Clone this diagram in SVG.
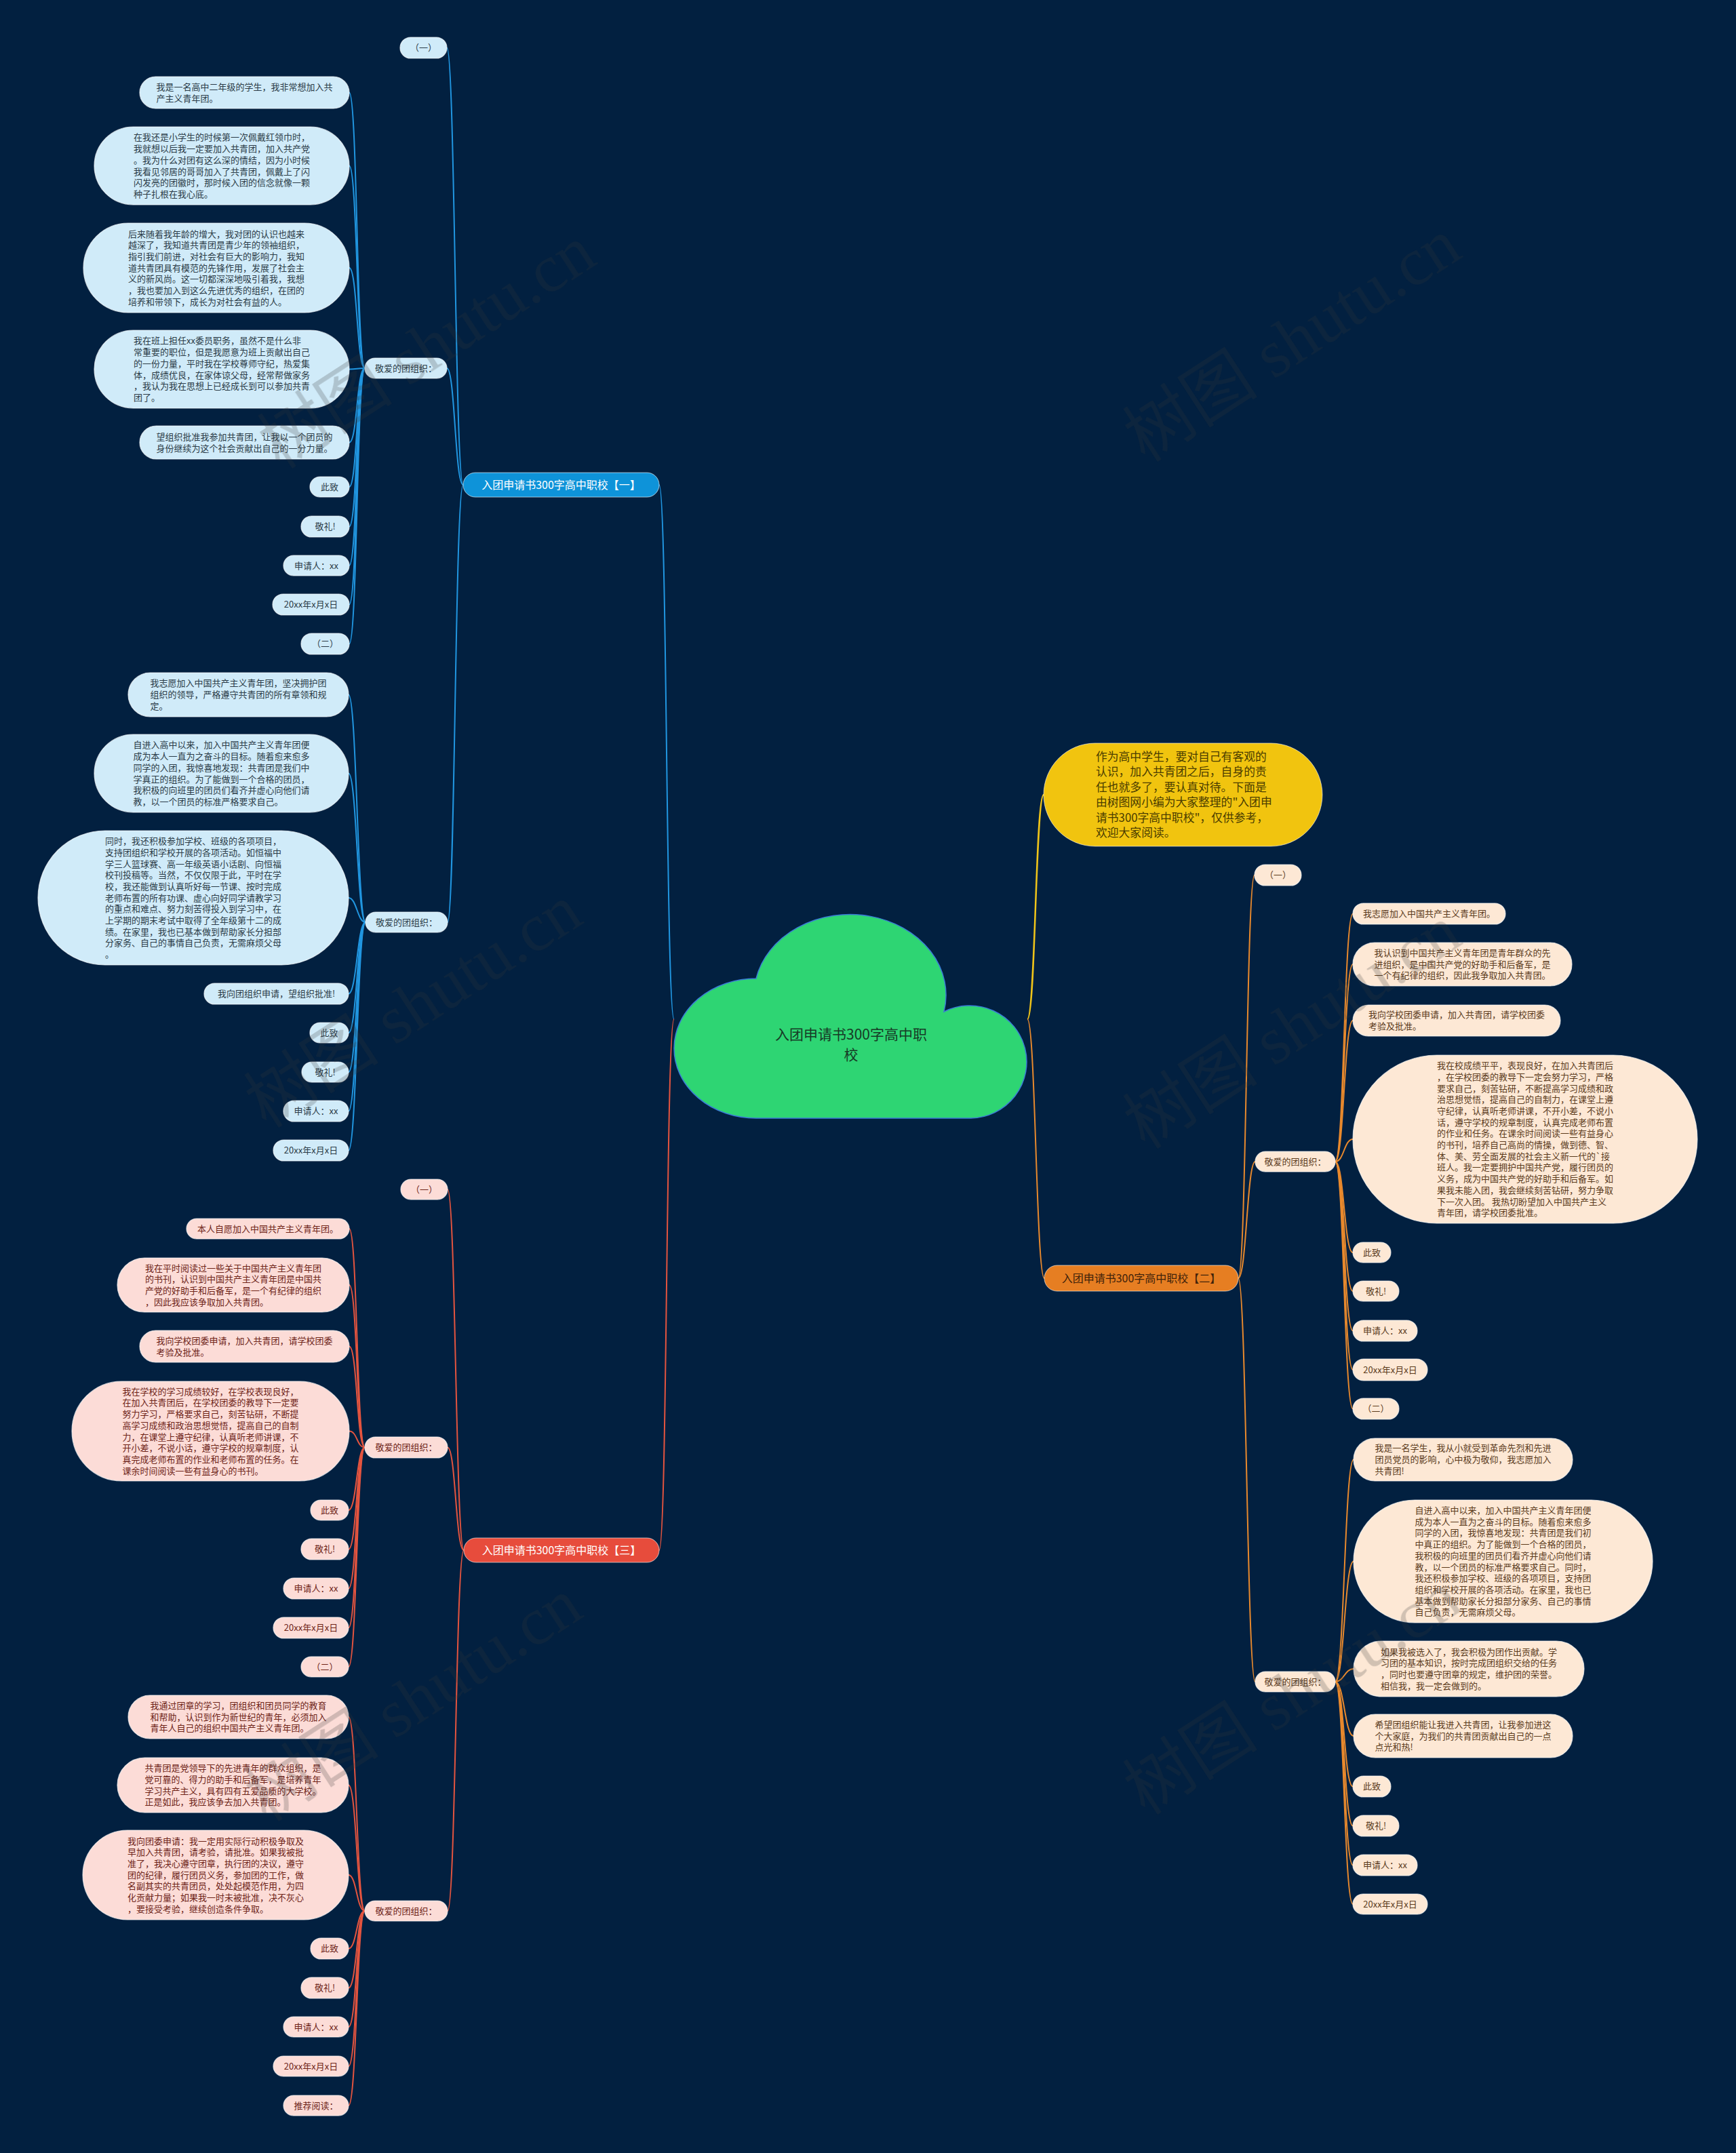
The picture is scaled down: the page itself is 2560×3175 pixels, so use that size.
<svg xmlns="http://www.w3.org/2000/svg" width="2560" height="3175" viewBox="0 0 2560 3175">
<style>
text{font-family:"Noto Sans CJK SC","Noto Sans",sans-serif;font-size:13px}
.c{text-anchor:middle}
.lb{fill:#d0ebf9;stroke:#ffffff;stroke-opacity:.7;stroke-width:1.2}
.lr{fill:#fcdcd7;stroke:#ffffff;stroke-opacity:.7;stroke-width:1.2}
.lo{fill:#fde8d5;stroke:#ffffff;stroke-opacity:.7;stroke-width:1.2}
.tb{fill:#2b3b47}
.tr{fill:#6e2418}
.to{fill:#5b3b1c}
.cb path{fill:none;stroke:#2196e0;stroke-width:2}
.cr path{fill:none;stroke:#e4543f;stroke-width:2}
.co path{fill:none;stroke:#e8892d;stroke-width:2}
.cy path{fill:none;stroke:#f0c419;stroke-width:2.5}
.br{font-size:16px}
</style>
<rect x="0" y="0" width="2560" height="3175" fill="#022040"/>

<g id="connectors">
<g class="cb">
<path d="M994 1503 C982 1503 984 715 972 715" stroke-width="2.5"/>
<path d="M683 715 C671 715 671 70.5 659 70.5"/>
<path d="M683 715 C671 715 671 543 659 543"/>
<path d="M683 715 C671 715 671 1360 660 1360"/>
<path d="M538 543 C526 543 527 136.5 515 136.5"/>
<path d="M538 543 C526 543 527 244.5 515 244.5"/>
<path d="M538 543 C526 543 527 395 515 395"/>
<path d="M538 543 C526 543 527 544.5 515 544.5"/>
<path d="M538 543 C526 543 527 652.5 515 652.5"/>
<path d="M538 543 C526 543 527 718 515 718"/>
<path d="M538 543 C526 543 527 776.5 515 776.5"/>
<path d="M538 543 C526 543 527 834 515 834"/>
<path d="M538 543 C526 543 527 891.5 515 891.5"/>
<path d="M538 543 C526 543 527 949.5 515 949.5"/>
<path d="M539 1360 C527 1360 526 1024.5 514 1024.5"/>
<path d="M539 1360 C527 1360 526 1140.5 514 1140.5"/>
<path d="M539 1360 C527 1360 526 1324 514 1324"/>
<path d="M539 1360 C527 1360 526 1465.5 514 1465.5"/>
<path d="M539 1360 C527 1360 526 1523 514 1523"/>
<path d="M539 1360 C527 1360 526 1581 514 1581"/>
<path d="M539 1360 C527 1360 526 1638.5 514 1638.5"/>
<path d="M539 1360 C527 1360 526 1696.5 514 1696.5"/>
</g>
<g class="cr">
<path d="M994 1503 C982 1503 984 2286 972 2286" stroke-width="2.5"/>
<path d="M684 2286 C672 2286 672 1754 660 1754"/>
<path d="M684 2286 C672 2286 672 2134.5 660 2134.5"/>
<path d="M684 2286 C672 2286 672 2818 660 2818"/>
<path d="M538 2134.5 C526 2134.5 527 1812 515 1812"/>
<path d="M538 2134.5 C526 2134.5 527 1895 515 1895"/>
<path d="M538 2134.5 C526 2134.5 527 1985.5 515 1985.5"/>
<path d="M538 2134.5 C526 2134.5 527 2110.5 515 2110.5"/>
<path d="M538 2134.5 C526 2134.5 526 2227 514 2227"/>
<path d="M538 2134.5 C526 2134.5 526 2284.5 514 2284.5"/>
<path d="M538 2134.5 C526 2134.5 526 2342.5 514 2342.5"/>
<path d="M538 2134.5 C526 2134.5 526 2400.5 514 2400.5"/>
<path d="M538 2134.5 C526 2134.5 526 2458 514 2458"/>
<path d="M538 2818 C526 2818 526 2532 514 2532"/>
<path d="M538 2818 C526 2818 526 2632.5 514 2632.5"/>
<path d="M538 2818 C526 2818 526 2765 514 2765"/>
<path d="M538 2818 C526 2818 526 2873.5 514 2873.5"/>
<path d="M538 2818 C526 2818 526 2931.5 514 2931.5"/>
<path d="M538 2818 C526 2818 526 2989 514 2989"/>
<path d="M538 2818 C526 2818 526 3047 514 3047"/>
<path d="M538 2818 C526 2818 526 3105 514 3105"/>
</g>
<g class="cy">
<path d="M1515 1503 C1527 1503 1527 1172 1539 1172"/>
</g>
<g class="co">
<path d="M1515 1503 C1527 1503 1528 1885 1540 1885" stroke-width="2.5"/>
<path d="M1826 1885 C1838 1885 1838 1290.5 1850 1290.5"/>
<path d="M1826 1885 C1838 1885 1839 1713 1851 1713"/>
<path d="M1826 1885 C1838 1885 1839 2480 1851 2480"/>
<path d="M1969 1713 C1982 1713 1982 1347.5 1995 1347.5"/>
<path d="M1969 1713 C1982 1713 1982 1422 1995 1422"/>
<path d="M1969 1713 C1982 1713 1982 1505 1995 1505"/>
<path d="M1969 1713 C1982 1713 1982 1680 1995 1680"/>
<path d="M1969 1713 C1982 1713 1982 1847 1995 1847"/>
<path d="M1969 1713 C1982 1713 1982 1904 1995 1904"/>
<path d="M1969 1713 C1982 1713 1982 1962.5 1995 1962.5"/>
<path d="M1969 1713 C1982 1713 1982 2020 1995 2020"/>
<path d="M1969 1713 C1982 1713 1982 2077.5 1995 2077.5"/>
<path d="M1969 2480 C1982 2480 1983 2152.5 1996 2152.5"/>
<path d="M1969 2480 C1982 2480 1983 2302.5 1996 2302.5"/>
<path d="M1969 2480 C1982 2480 1983 2461 1996 2461"/>
<path d="M1969 2480 C1982 2480 1983 2560 1996 2560"/>
<path d="M1969 2480 C1982 2480 1982 2634.5 1995 2634.5"/>
<path d="M1969 2480 C1982 2480 1982 2692.5 1995 2692.5"/>
<path d="M1969 2480 C1982 2480 1982 2750.5 1995 2750.5"/>
<path d="M1969 2480 C1982 2480 1982 2808 1995 2808"/>
</g>
</g>

<g id="root">
<path d="M1115 1649 A121 103 0 0 1 1115 1443 A138 116 0 0 1 1392 1492 A84 83 0 1 1 1432 1649 Z" fill="#2ed573" stroke="#3a7bd5" stroke-width="1.5"/>
<text class="c" x="1255" y="1532.5" style="font-size:21px" fill="#173a26">入团申请书300字高中职</text>
<text class="c" x="1255" y="1562.5" style="font-size:21px" fill="#173a26">校</text>
</g>

<!-- Branch 1 -->
<g id="b1"><rect x="683" y="697" width="289" height="36" rx="18" fill="#0e93d9" stroke="#ffffff" stroke-opacity=".6"/><text class="c br" x="827.5" y="721" fill="#ffffff">入团申请书300字高中职校【一】</text></g>
<g id="b1_one"><rect class="lb" x="590" y="55" width="69" height="31" rx="15.5"/><text class="c tb" x="624.5" y="75.1">（一）</text></g>
<g id="b1_org1"><rect class="lb" x="538" y="528" width="121" height="30" rx="15"/><text class="c tb" x="598.5" y="547.6">敬爱的团组织：</text></g>
<g id="b1_org2"><rect class="lb" x="539" y="1345" width="121" height="30" rx="15"/><text class="c tb" x="599.5" y="1364.6">敬爱的团组织：</text></g>
<g id="p1"><rect class="lb" x="206" y="113" width="309" height="47" rx="23.5"/><text class="tb" x="230.5" y="132.8"><tspan x="230.5">我是一名高中二年级的学生，我非常想加入共</tspan><tspan x="230.5" dy="16.7">产主义青年团。</tspan></text></g>
<g id="p2"><rect class="lb" x="139" y="187" width="376" height="115" rx="57.5"/><text class="tb" x="197" y="207.4"><tspan x="197">在我还是小学生的时候第一次佩戴红领巾时，</tspan><tspan x="197" dy="16.7">我就想以后我一定要加入共青团，加入共产党</tspan><tspan x="197" dy="16.7">。我为什么对团有这么深的情结，因为小时候</tspan><tspan x="197" dy="16.7">我看见邻居的哥哥加入了共青团，佩戴上了闪</tspan><tspan x="197" dy="16.7">闪发亮的团徽时，那时候入团的信念就像一颗</tspan><tspan x="197" dy="16.7">种子扎根在我心底。</tspan></text></g>
<g id="p3"><rect class="lb" x="123" y="329" width="392" height="132" rx="66"/><text class="tb" x="189" y="349.5"><tspan x="189">后来随着我年龄的增大，我对团的认识也越来</tspan><tspan x="189" dy="16.7">越深了，我知道共青团是青少年的领袖组织，</tspan><tspan x="189" dy="16.7">指引我们前进，对社会有巨大的影响力，我知</tspan><tspan x="189" dy="16.7">道共青团具有模范的先锋作用，发展了社会主</tspan><tspan x="189" dy="16.7">义的新风尚。这一切都深深地吸引着我，我想</tspan><tspan x="189" dy="16.7">，我也要加入到这么先进优秀的组织，在团的</tspan><tspan x="189" dy="16.7">培养和带领下，成长为对社会有益的人。</tspan></text></g>
<g id="p4"><rect class="lb" x="139" y="487" width="376" height="115" rx="57.5"/><text class="tb" x="197" y="507.4"><tspan x="197">我在班上担任xx委员职务，虽然不是什么非</tspan><tspan x="197" dy="16.7">常重要的职位，但是我愿意为班上贡献出自己</tspan><tspan x="197" dy="16.7">的一份力量，平时我在学校尊师守纪，热爱集</tspan><tspan x="197" dy="16.7">体，成绩优良，在家体谅父母，经常帮做家务</tspan><tspan x="197" dy="16.7">，我认为我在思想上已经成长到可以参加共青</tspan><tspan x="197" dy="16.7">团了。</tspan></text></g>
<g id="p5"><rect class="lb" x="206" y="628" width="309" height="49" rx="24.5"/><text class="tb" x="230.5" y="648.8"><tspan x="230.5">望组织批准我参加共青团，让我以一个团员的</tspan><tspan x="230.5" dy="16.7">身份继续为这个社会贡献出自己的一分力量。</tspan></text></g>
<g id="b1_zz1"><rect class="lb" x="457" y="703" width="58" height="30" rx="15"/><text class="c tb" x="486" y="722.6">此致</text></g>
<g id="b1_jl1"><rect class="lb" x="444" y="761" width="71" height="31" rx="15.5"/><text class="c tb" x="479.5" y="781.1">敬礼!</text></g>
<g id="b1_sq1"><rect class="lb" x="418" y="819" width="97" height="30" rx="15"/><text class="c tb" x="466.5" y="838.6">申请人：xx</text></g>
<g id="b1_rq1"><rect class="lb" x="402" y="876" width="113" height="31" rx="15.5"/><text class="c tb" x="458.5" y="896.1">20xx年x月x日</text></g>
<g id="b1_er1"><rect class="lb" x="444" y="934" width="71" height="31" rx="15.5"/><text class="c tb" x="479.5" y="954.1">（二）</text></g>
<g id="q1"><rect class="lb" x="189" y="992" width="325" height="65" rx="32.5"/><text class="tb" x="221.5" y="1012.4"><tspan x="221.5">我志愿加入中国共产主义青年团，坚决拥护团</tspan><tspan x="221.5" dy="16.7">组织的领导，严格遵守共青团的所有章领和规</tspan><tspan x="221.5" dy="16.7">定。</tspan></text></g>
<g id="q2"><rect class="lb" x="139" y="1083" width="375" height="115" rx="57.5"/><text class="tb" x="196.5" y="1103.4"><tspan x="196.5">自进入高中以来，加入中国共产主义青年团便</tspan><tspan x="196.5" dy="16.7">成为本人一直为之奋斗的目标。随着愈来愈多</tspan><tspan x="196.5" dy="16.7">同学的入团，我惊喜地发现：共青团是我们中</tspan><tspan x="196.5" dy="16.7">学真正的组织。为了能做到一个合格的团员，</tspan><tspan x="196.5" dy="16.7">我积极的向班里的团员们看齐并虚心向他们请</tspan><tspan x="196.5" dy="16.7">教，以一个团员的标准严格要求自己。</tspan></text></g>
<g id="q3"><rect class="lb" x="56" y="1225" width="458" height="198" rx="99"/><text class="tb" x="155" y="1245.1"><tspan x="155">同时，我还积极参加学校、班级的各项项目，</tspan><tspan x="155" dy="16.7">支持团组织和学校开展的各项活动。如恒福中</tspan><tspan x="155" dy="16.7">学三人篮球赛、高一年级英语小话剧、向恒福</tspan><tspan x="155" dy="16.7">校刊投稿等。当然，不仅仅限于此，平时在学</tspan><tspan x="155" dy="16.7">校，我还能做到认真听好每一节课、按时完成</tspan><tspan x="155" dy="16.7">老师布置的所有功课、虚心向好同学请教学习</tspan><tspan x="155" dy="16.7">的重点和难点、努力刻苦得投入到学习中，在</tspan><tspan x="155" dy="16.7">上学期的期末考试中取得了全年级第十二的成</tspan><tspan x="155" dy="16.7">绩。在家里，我也已基本做到帮助家长分担部</tspan><tspan x="155" dy="16.7">分家务、自己的事情自己负责，无需麻烦父母</tspan><tspan x="155" dy="16.7">。</tspan></text></g>
<g id="q4"><rect class="lb" x="301" y="1450" width="213" height="31" rx="15.5"/><text class="c tb" x="407.5" y="1470.1">我向团组织申请，望组织批准!</text></g>
<g id="b1_zz2"><rect class="lb" x="457" y="1508" width="57" height="30" rx="15"/><text class="c tb" x="485.5" y="1527.6">此致</text></g>
<g id="b1_jl2"><rect class="lb" x="445" y="1566" width="69" height="30" rx="15"/><text class="c tb" x="479.5" y="1585.6">敬礼!</text></g>
<g id="b1_sq2"><rect class="lb" x="418" y="1623" width="96" height="31" rx="15.5"/><text class="c tb" x="466" y="1643.1">申请人：xx</text></g>
<g id="b1_rq2"><rect class="lb" x="403" y="1681" width="111" height="31" rx="15.5"/><text class="c tb" x="458.5" y="1701.1">20xx年x月x日</text></g>

<!-- Branch 3 -->
<g id="b3"><rect x="684" y="2268" width="288" height="36" rx="18" fill="#e74c3c" stroke="#ffffff" stroke-opacity=".6"/><text class="c br" x="828" y="2292" fill="#ffffff">入团申请书300字高中职校【三】</text></g>
<g id="b3_one"><rect class="lr" x="591" y="1739" width="69" height="30" rx="15"/><text class="c tr" x="625.5" y="1758.6">（一）</text></g>
<g id="b3_org1"><rect class="lr" x="538" y="2119" width="122" height="31" rx="15.5"/><text class="c tr" x="599" y="2139.1">敬爱的团组织：</text></g>
<g id="b3_org2"><rect class="lr" x="538" y="2803" width="122" height="30" rx="15"/><text class="c tr" x="599" y="2822.6">敬爱的团组织：</text></g>
<g id="r1"><rect class="lr" x="275" y="1797" width="240" height="30" rx="15"/><text class="c tr" x="395" y="1816.6">本人自愿加入中国共产主义青年团。</text></g>
<g id="r2"><rect class="lr" x="173" y="1855" width="342" height="80" rx="40"/><text class="tr" x="214" y="1874.6"><tspan x="214">我在平时阅读过一些关于中国共产主义青年团</tspan><tspan x="214" dy="16.7">的书刊，认识到中国共产主义青年团是中国共</tspan><tspan x="214" dy="16.7">产党的好助手和后备军，是一个有纪律的组织</tspan><tspan x="214" dy="16.7">，因此我应该争取加入共青团。</tspan></text></g>
<g id="r3"><rect class="lr" x="206" y="1962" width="309" height="47" rx="23.5"/><text class="tr" x="230.5" y="1981.8"><tspan x="230.5">我向学校团委申请，加入共青团，请学校团委</tspan><tspan x="230.5" dy="16.7">考验及批准。</tspan></text></g>
<g id="r4"><rect class="lr" x="106" y="2037" width="409" height="147" rx="73.5"/><text class="tr" x="180.5" y="2056.7"><tspan x="180.5">我在学校的学习成绩较好，在学校表现良好，</tspan><tspan x="180.5" dy="16.7">在加入共青团后，在学校团委的教导下一定要</tspan><tspan x="180.5" dy="16.7">努力学习，严格要求自己，刻苦钻研，不断提</tspan><tspan x="180.5" dy="16.7">高学习成绩和政治思想觉悟，提高自己的自制</tspan><tspan x="180.5" dy="16.7">力，在课堂上遵守纪律，认真听老师讲课，不</tspan><tspan x="180.5" dy="16.7">开小差，不说小话，遵守学校的规章制度，认</tspan><tspan x="180.5" dy="16.7">真完成老师布置的作业和老师布置的任务。在</tspan><tspan x="180.5" dy="16.7">课余时间阅读一些有益身心的书刊。</tspan></text></g>
<g id="b3_zz1"><rect class="lr" x="458" y="2212" width="56" height="30" rx="15"/><text class="c tr" x="486" y="2231.6">此致</text></g>
<g id="b3_jl1"><rect class="lr" x="444" y="2269" width="70" height="31" rx="15.5"/><text class="c tr" x="479" y="2289.1">敬礼!</text></g>
<g id="b3_sq1"><rect class="lr" x="418" y="2327" width="96" height="31" rx="15.5"/><text class="c tr" x="466" y="2347.1">申请人：xx</text></g>
<g id="b3_rq1"><rect class="lr" x="403" y="2385" width="111" height="31" rx="15.5"/><text class="c tr" x="458.5" y="2405.1">20xx年x月x日</text></g>
<g id="b3_er1"><rect class="lr" x="444" y="2443" width="70" height="30" rx="15"/><text class="c tr" x="479" y="2462.6">（二）</text></g>
<g id="s1"><rect class="lr" x="189" y="2500" width="325" height="64" rx="32"/><text class="tr" x="221.5" y="2519.9"><tspan x="221.5">我通过团章的学习，团组织和团员同学的教育</tspan><tspan x="221.5" dy="16.7">和帮助，认识到作为新世纪的青年，必须加入</tspan><tspan x="221.5" dy="16.7">青年人自己的组织中国共产主义青年团。</tspan></text></g>
<g id="s2"><rect class="lr" x="173" y="2592" width="341" height="81" rx="40.5"/><text class="tr" x="213.5" y="2612.1"><tspan x="213.5">共青团是党领导下的先进青年的群众组织，是</tspan><tspan x="213.5" dy="16.7">党可靠的、得力的助手和后备军，是培养青年</tspan><tspan x="213.5" dy="16.7">学习共产主义，具有四有五爱品质的大学校。</tspan><tspan x="213.5" dy="16.7">正是如此，我应该争去加入共青团。</tspan></text></g>
<g id="s3"><rect class="lr" x="122" y="2699" width="392" height="132" rx="66"/><text class="tr" x="188" y="2719.5"><tspan x="188">我向团委申请：我一定用实际行动积极争取及</tspan><tspan x="188" dy="16.7">早加入共青团，请考验，请批准。如果我被批</tspan><tspan x="188" dy="16.7">准了，我决心遵守团章，执行团的决议，遵守</tspan><tspan x="188" dy="16.7">团的纪律，履行团员义务，参加团的工作，做</tspan><tspan x="188" dy="16.7">名副其实的共青团员，处处起模范作用，为四</tspan><tspan x="188" dy="16.7">化贡献力量；如果我一时未被批准，决不灰心</tspan><tspan x="188" dy="16.7">，要接受考验，继续创造条件争取。</tspan></text></g>
<g id="b3_zz2"><rect class="lr" x="458" y="2858" width="56" height="31" rx="15.5"/><text class="c tr" x="486" y="2878.1">此致</text></g>
<g id="b3_jl2"><rect class="lr" x="444" y="2916" width="70" height="31" rx="15.5"/><text class="c tr" x="479" y="2936.1">敬礼!</text></g>
<g id="b3_sq2"><rect class="lr" x="418" y="2974" width="96" height="30" rx="15"/><text class="c tr" x="466" y="2993.6">申请人：xx</text></g>
<g id="b3_rq2"><rect class="lr" x="403" y="3032" width="111" height="30" rx="15"/><text class="c tr" x="458.5" y="3051.6">20xx年x月x日</text></g>
<g id="b3_tj"><rect class="lr" x="418" y="3090" width="96" height="30" rx="15"/><text class="c tr" x="466" y="3109.6">推荐阅读：</text></g>

<!-- Intro -->
<g id="intro"><rect x="1539" y="1096" width="411" height="152" rx="76" fill="#f1c40f" stroke="#ffffff" stroke-opacity=".6"/><text x="1616" y="1121.8" style="font-size:16.8px" fill="#4a3c00"><tspan x="1616">作为高中学生，要对自己有客观的</tspan><tspan x="1616" dy="22.5">认识，加入共青团之后，自身的责</tspan><tspan x="1616" dy="22.5">任也就多了，要认真对待。下面是</tspan><tspan x="1616" dy="22.5">由树图网小编为大家整理的"入团申</tspan><tspan x="1616" dy="22.5">请书300字高中职校"，仅供参考，</tspan><tspan x="1616" dy="22.5">欢迎大家阅读。</tspan></text></g>

<!-- Branch 2 -->
<g id="b2"><rect x="1540" y="1866" width="286" height="38" rx="19" fill="#e67e22" stroke="#ffffff" stroke-opacity=".6"/><text class="c br" x="1683" y="1891" fill="#40220a">入团申请书300字高中职校【二】</text></g>
<g id="b2_one"><rect class="lo" x="1850" y="1275" width="69" height="31" rx="15.5"/><text class="c to" x="1884.5" y="1295.1">（一）</text></g>
<g id="b2_org1"><rect class="lo" x="1851" y="1698" width="118" height="30" rx="15"/><text class="c to" x="1910" y="1717.6">敬爱的团组织：</text></g>
<g id="b2_org2"><rect class="lo" x="1851" y="2465" width="118" height="30" rx="15"/><text class="c to" x="1910" y="2484.6">敬爱的团组织：</text></g>
<g id="t1"><rect class="lo" x="1995" y="1332" width="225" height="31" rx="15.5"/><text class="c to" x="2107.5" y="1352.1">我志愿加入中国共产主义青年团。</text></g>
<g id="t2"><rect class="lo" x="1995" y="1390" width="323" height="64" rx="32"/><text class="to" x="2026.5" y="1409.9"><tspan x="2026.5">我认识到中国共产主义青年团是青年群众的先</tspan><tspan x="2026.5" dy="16.7">进组织，是中国共产党的好助手和后备军，是</tspan><tspan x="2026.5" dy="16.7">一个有纪律的组织，因此我争取加入共青团。</tspan></text></g>
<g id="t3"><rect class="lo" x="1995" y="1482" width="306" height="46" rx="23"/><text class="to" x="2018" y="1501.3"><tspan x="2018">我向学校团委申请，加入共青团，请学校团委</tspan><tspan x="2018" dy="16.7">考验及批准。</tspan></text></g>
<g id="t4"><rect class="lo" x="1995" y="1556" width="508" height="248" rx="124"/><text class="to" x="2119" y="1576.1"><tspan x="2119">我在校成绩平平，表现良好，在加入共青团后</tspan><tspan x="2119" dy="16.7">，在学校团委的教导下一定会努力学习，严格</tspan><tspan x="2119" dy="16.7">要求自己，刻苦钻研，不断提高学习成绩和政</tspan><tspan x="2119" dy="16.7">治思想觉悟，提高自己的自制力，在课堂上遵</tspan><tspan x="2119" dy="16.7">守纪律，认真听老师讲课，不开小差，不说小</tspan><tspan x="2119" dy="16.7">话，遵守学校的规章制度，认真完成老师布置</tspan><tspan x="2119" dy="16.7">的作业和任务。在课余时间阅读一些有益身心</tspan><tspan x="2119" dy="16.7">的书刊，培养自己高尚的情操，做到德、智、</tspan><tspan x="2119" dy="16.7">体、美、劳全面发展的社会主义新一代的`接</tspan><tspan x="2119" dy="16.7">班人。我一定要拥护中国共产党，履行团员的</tspan><tspan x="2119" dy="16.7">义务，成为中国共产党的好助手和后备军。如</tspan><tspan x="2119" dy="16.7">果我未能入团，我会继续刻苦钻研，努力争取</tspan><tspan x="2119" dy="16.7">下一次入团。 我热切盼望加入中国共产主义</tspan><tspan x="2119" dy="16.7">青年团，请学校团委批准。</tspan></text></g>
<g id="b2_zz1"><rect class="lo" x="1995" y="1832" width="56" height="30" rx="15"/><text class="c to" x="2023" y="1851.6">此致</text></g>
<g id="b2_jl1"><rect class="lo" x="1995" y="1889" width="68" height="30" rx="15"/><text class="c to" x="2029" y="1908.6">敬礼!</text></g>
<g id="b2_sq1"><rect class="lo" x="1995" y="1947" width="95" height="31" rx="15.5"/><text class="c to" x="2042.5" y="1967.1">申请人：xx</text></g>
<g id="b2_rq1"><rect class="lo" x="1995" y="2004" width="110" height="32" rx="16"/><text class="c to" x="2050" y="2024.6">20xx年x月x日</text></g>
<g id="b2_er1"><rect class="lo" x="1995" y="2062" width="68" height="31" rx="15.5"/><text class="c to" x="2029" y="2082.1">（二）</text></g>
<g id="u1"><rect class="lo" x="1996" y="2121" width="323" height="63" rx="31.5"/><text class="to" x="2027.5" y="2140.4"><tspan x="2027.5">我是一名学生，我从小就受到革命先烈和先进</tspan><tspan x="2027.5" dy="16.7">团员党员的影响，心中极为敬仰，我志愿加入</tspan><tspan x="2027.5" dy="16.7">共青团!</tspan></text></g>
<g id="u2"><rect class="lo" x="1996" y="2212" width="441" height="181" rx="90.5"/><text class="to" x="2086.5" y="2232"><tspan x="2086.5">自进入高中以来，加入中国共产主义青年团便</tspan><tspan x="2086.5" dy="16.7">成为本人一直为之奋斗的目标。随着愈来愈多</tspan><tspan x="2086.5" dy="16.7">同学的入团，我惊喜地发现：共青团是我们初</tspan><tspan x="2086.5" dy="16.7">中真正的组织。为了能做到一个合格的团员，</tspan><tspan x="2086.5" dy="16.7">我积极的向班里的团员们看齐并虚心向他们请</tspan><tspan x="2086.5" dy="16.7">教，以一个团员的标准严格要求自己。同时，</tspan><tspan x="2086.5" dy="16.7">我还积极参加学校、班级的各项项目，支持团</tspan><tspan x="2086.5" dy="16.7">组织和学校开展的各项活动。在家里，我也已</tspan><tspan x="2086.5" dy="16.7">基本做到帮助家长分担部分家务、自己的事情</tspan><tspan x="2086.5" dy="16.7">自己负责，无需麻烦父母。</tspan></text></g>
<g id="u3"><rect class="lo" x="1996" y="2420" width="340" height="82" rx="41"/><text class="to" x="2036" y="2440.6"><tspan x="2036">如果我被选入了，我会积极为团作出贡献。学</tspan><tspan x="2036" dy="16.7">习团的基本知识，按时完成团组织交给的任务</tspan><tspan x="2036" dy="16.7">，同时也要遵守团章的规定，维护团的荣誉。</tspan><tspan x="2036" dy="16.7">相信我，我一定会做到的。</tspan></text></g>
<g id="u4"><rect class="lo" x="1996" y="2528" width="323" height="64" rx="32"/><text class="to" x="2027.5" y="2547.9"><tspan x="2027.5">希望团组织能让我进入共青团，让我参加进这</tspan><tspan x="2027.5" dy="16.7">个大家庭，为我们的共青团贡献出自己的一点</tspan><tspan x="2027.5" dy="16.7">点光和热!</tspan></text></g>
<g id="b2_zz2"><rect class="lo" x="1995" y="2619" width="56" height="31" rx="15.5"/><text class="c to" x="2023" y="2639.1">此致</text></g>
<g id="b2_jl2"><rect class="lo" x="1995" y="2677" width="68" height="31" rx="15.5"/><text class="c to" x="2029" y="2697.1">敬礼!</text></g>
<g id="b2_sq2"><rect class="lo" x="1995" y="2735" width="95" height="31" rx="15.5"/><text class="c to" x="2042.5" y="2755.1">申请人：xx</text></g>
<g id="b2_rq2"><rect class="lo" x="1995" y="2793" width="110" height="30" rx="15"/><text class="c to" x="2050" y="2812.6">20xx年x月x日</text></g>

<g id="watermark" fill="#3a3a3a" opacity="0.22">
<text class="c" style="font-size:100px;font-family:'Liberation Serif','Noto Sans CJK SC',serif" transform="translate(648 540) rotate(-33)">树图 shutu.cn</text>
<text class="c" style="font-size:100px;font-family:'Liberation Serif','Noto Sans CJK SC',serif" transform="translate(1924 530) rotate(-33)">树图 shutu.cn</text>
<text class="c" style="font-size:100px;font-family:'Liberation Serif','Noto Sans CJK SC',serif" transform="translate(628 1512) rotate(-33)">树图 shutu.cn</text>
<text class="c" style="font-size:100px;font-family:'Liberation Serif','Noto Sans CJK SC',serif" transform="translate(1924 1543) rotate(-33)">树图 shutu.cn</text>
<text class="c" style="font-size:100px;font-family:'Liberation Serif','Noto Sans CJK SC',serif" transform="translate(628 2535) rotate(-33)">树图 shutu.cn</text>
<text class="c" style="font-size:100px;font-family:'Liberation Serif','Noto Sans CJK SC',serif" transform="translate(1924 2525) rotate(-33)">树图 shutu.cn</text>
</g>
</svg>
